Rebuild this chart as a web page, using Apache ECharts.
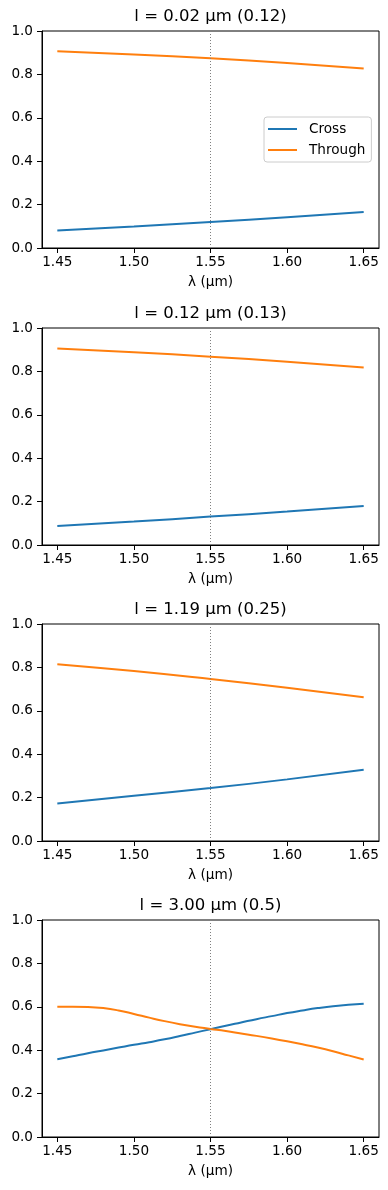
<!DOCTYPE html>
<html>
<head>
<meta charset="utf-8">
<script src="https://cdn.jsdelivr.net/npm/echarts@6/dist/echarts.min.js"></script>
<style>
  html, body { margin: 0; padding: 0; background: #fff; }
  #chart { width: 388px; height: 1190px; }
</style>
</head>
<body>
<div id="chart"></div>
<script>
// ---- data ----
const panelTitles = ['l = 0.02 µm (0.12)', 'l = 0.12 µm (0.13)', 'l = 1.19 µm (0.25)', 'l = 3.00 µm (0.5)'];
const xTicks = [1.45, 1.50, 1.55, 1.60, 1.65];
const yTicks = [0, 0.2, 0.4, 0.6, 0.8, 1.0];
const markerWavelength = 1.55;

const lamCoarse = [1.45, 1.50, 1.55, 1.60, 1.65];
const cross1 = [0.081, 0.099, 0.120, 0.142, 0.166];
const through1 = [0.907, 0.892, 0.874, 0.852, 0.827];
const cross2 = [0.088, 0.108, 0.131, 0.154, 0.180];
const through2 = [0.905, 0.888, 0.868, 0.845, 0.818];
const cross3 = [0.173, 0.208, 0.244, 0.284, 0.328];
const through3 = [0.815, 0.783, 0.746, 0.706, 0.662];

const lamFine = [1.45, 1.46, 1.47, 1.48, 1.49, 1.50, 1.51, 1.52, 1.53, 1.54, 1.55,
                 1.56, 1.57, 1.58, 1.59, 1.60, 1.61, 1.62, 1.63, 1.64, 1.65];
const cross4 = [0.358, 0.372, 0.386, 0.399, 0.412, 0.425, 0.437, 0.450, 0.465, 0.481, 0.497,
                0.513, 0.528, 0.543, 0.557, 0.571, 0.583, 0.594, 0.603, 0.609, 0.614];
const through4 = [0.600, 0.600, 0.599, 0.594, 0.583, 0.567, 0.550, 0.534, 0.520, 0.508, 0.498,
                  0.488, 0.477, 0.466, 0.454, 0.441, 0.427, 0.412, 0.395, 0.376, 0.357];

const panels = [
  { x: lamCoarse, cross: cross1, through: through1 },
  { x: lamCoarse, cross: cross2, through: through2 },
  { x: lamCoarse, cross: cross3, through: through3 },
  { x: lamFine, cross: cross4, through: through4 }
];

// ---- layout ----
const FONT = 'DejaVu Sans';
const gridTops = [31, 328, 624, 920];
const gridLeft = 42, gridWidth = 337, gridHeight = 217;
const blue = '#1f77b4', orange = '#ff7f0e';

const zip = (xs, ys) => xs.map((v, i) => [v, ys[i]]);

const grids = [], xAxes = [], yAxes = [], series = [], titles = [];
panels.forEach((p, i) => {
  grids.push({ left: gridLeft, top: gridTops[i], width: gridWidth, height: gridHeight,
    show: true, borderColor: '#000', borderWidth: 1, backgroundColor: 'transparent' });
  xAxes.push({
    type: 'value', gridIndex: i, min: 1.44, max: 1.66,
    name: 'λ (µm)', nameLocation: 'middle', nameGap: 27,
    nameTextStyle: { fontFamily: FONT, fontSize: 13.6, color: '#000' },
    axisLine: { lineStyle: { color: '#000', width: 1 } },
    axisTick: { show: true, length: 5, lineStyle: { color: '#000' }, customValues: xTicks },
    axisLabel: { fontFamily: FONT, fontSize: 13.6, color: '#000', margin: 7,
      customValues: xTicks, formatter: v => v.toFixed(2) },
    splitLine: { show: false }
  });
  yAxes.push({
    type: 'value', gridIndex: i, min: 0, max: 1, interval: 0.2,
    axisLine: { show: true, lineStyle: { color: '#000', width: 1 } },
    axisTick: { show: true, length: 5, lineStyle: { color: '#000' }, customValues: yTicks },
    axisLabel: { fontFamily: FONT, fontSize: 13.6, color: '#000', margin: 9,
      customValues: yTicks, formatter: v => v.toFixed(1) },
    splitLine: { show: false }
  });
  titles.push({
    text: panelTitles[i], left: gridLeft + gridWidth / 2, top: gridTops[i] - 24,
    textAlign: 'center', padding: 0,
    textStyle: { fontFamily: FONT, fontSize: 16.5, fontWeight: 'normal', color: '#000', lineHeight: 20 }
  });
  series.push({
    name: 'Cross', type: 'line', xAxisIndex: i, yAxisIndex: i,
    data: zip(p.x, p.cross), smooth: 0.5, showSymbol: false, symbol: 'none',
    lineStyle: { color: blue, width: 2 }, itemStyle: { color: blue },
    markLine: {
      silent: true, symbol: ['none', 'none'], label: { show: false },
      lineStyle: { type: [1, 2], color: '#808080', width: 1 },
      data: [{ xAxis: markerWavelength }], animation: false
    },
    animation: false
  });
  series.push({
    name: 'Through', type: 'line', xAxisIndex: i, yAxisIndex: i,
    data: zip(p.x, p.through), smooth: 0.5, showSymbol: false, symbol: 'none',
    lineStyle: { color: orange, width: 2 }, itemStyle: { color: orange },
    animation: false
  });
});

const chart = echarts.init(document.getElementById('chart'), null, { renderer: 'canvas' });
chart.setOption({
  backgroundColor: '#fff',
  animation: false,
  title: titles,
  grid: grids,
  xAxis: xAxes,
  yAxis: yAxes,
  legend: {
    data: ['Cross', 'Through'],
    orient: 'vertical', left: 264, top: 117,
    icon: 'rect', itemWidth: 29, itemHeight: 2, itemGap: 7,
    padding: [5, 6, 5, 4],
    borderColor: '#cccccc', borderWidth: 1, borderRadius: 3,
    backgroundColor: 'rgba(255,255,255,0.8)',
    textStyle: { fontFamily: FONT, fontSize: 13.6, color: '#000', lineHeight: 14, padding: [0, 0, 0, 7] }
  },
  series: series
});
</script>
</body>
</html>
